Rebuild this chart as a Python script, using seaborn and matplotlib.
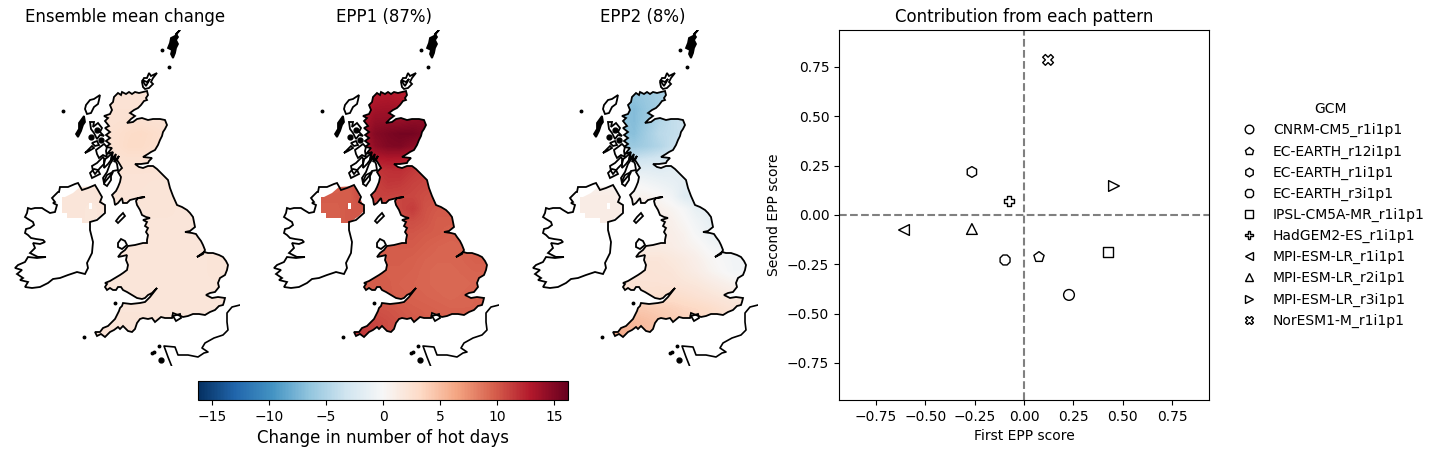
import matplotlib
matplotlib.use("Agg")
import matplotlib.pyplot as plt
import numpy as np
import pandas as pd
import seaborn as sns
from matplotlib.cm import ScalarMappable
from matplotlib.colors import Normalize
from matplotlib.patches import Polygon

# GCM scores
gcm_names = ["CNRM-CM5_r1i1p1", "EC-EARTH_r12i1p1", "EC-EARTH_r1i1p1", "EC-EARTH_r3i1p1",
             "IPSL-CM5A-MR_r1i1p1", "HadGEM2-ES_r1i1p1", "MPI-ESM-LR_r1i1p1",
             "MPI-ESM-LR_r2i1p1", "MPI-ESM-LR_r3i1p1", "NorESM1-M_r1i1p1"]
first_score = [0.228, 0.076, -0.264, -0.096, 0.426, -0.076, -0.608, -0.264, 0.456, 0.122]
second_score = [-0.405, -0.213, 0.218, -0.228, -0.188, 0.071, -0.076, -0.071, 0.147, 0.786]
gcm_markers = ["o", "p", "h", "8", "s", "P", "<", "^", ">", "X"]

titles = ["Ensemble mean change", "EPP1 (87%)", "EPP2 (8%)"]
cbar_ticks = [-15, -10, -5, 0, 5, 10, 15]

# map outlines, in map units (y pointing south)
great_britain = [
    (118, 93), (121, 95), (122, 92), (126, 94), (129, 92), (132, 94), (135, 92), (139, 93), (143, 92), (147, 91),
    (148, 95), (146, 98), (147, 100), (144, 101), (141, 105), (138, 108), (134, 110), (130, 113), (135, 116),
    (131, 119), (127, 123), (133, 122), (137, 119), (142, 118), (148, 120), (153, 119), (160, 119), (165, 120),
    (167, 125), (165, 129), (163, 132), (162, 136), (160, 140), (158, 145), (155, 150), (151, 152), (148, 154),
    (143, 157), (152, 158), (149, 161), (148, 163), (141, 164), (135, 164), (139, 167), (143, 168), (148, 166),
    (153, 166), (157, 169), (160, 172), (164, 176), (168, 180), (169, 184), (170, 188), (173, 196), (177, 205),
    (182, 207), (187, 210), (190, 213), (193, 217), (194, 222), (195, 227), (190, 231), (185, 232), (192, 233),
    (196, 234), (198, 237), (201, 241), (203, 245), (205, 250), (203, 254), (197, 257), (204, 252), (208, 253),
    (213, 253), (219, 255), (223, 257), (226, 261), (228, 265), (227, 270), (225, 275), (220, 278), (218, 283),
    (219, 287), (215, 292), (210, 293), (206, 295), (212, 298), (218, 297), (225, 298), (224, 302), (223, 305),
    (219, 306), (215, 310), (210, 312), (205, 315), (199, 314), (193, 314), (188, 316), (183, 317), (178, 315),
    (173, 313), (172, 318), (165, 318), (161, 317), (155, 322), (152, 318), (148, 319), (143, 318), (140, 319),
    (137, 323), (135, 329), (132, 332), (128, 331), (123, 326), (120, 329), (118, 327), (114, 330), (110, 332),
    (107, 335), (105, 337), (101, 334), (97, 336), (95, 332), (100, 332), (103, 328), (108, 326), (112, 322),
    (115, 319), (117, 315), (119, 311), (120, 308), (122, 306), (123, 303), (131, 304), (140, 303), (145, 302),
    (150, 297), (157, 288), (152, 293), (148, 295), (145, 298), (142, 299), (137, 298), (132, 295), (127, 292),
    (123, 290), (121, 287), (118, 287), (116, 290), (113, 290), (110, 288), (107, 290), (105, 287), (107, 284),
    (105, 283), (110, 281), (115, 278), (120, 275), (123, 273), (127, 270), (128, 265), (126, 260), (127, 255),
    (123, 256), (118, 257), (121, 253), (125, 250), (128, 246), (135, 245), (143, 243), (147, 243), (147, 240),
    (148, 235), (146, 232), (148, 228), (145, 226), (147, 222), (143, 220), (150, 218), (146, 217), (142, 215),
    (140, 210), (137, 205), (136, 201), (138, 198), (145, 197), (138, 198), (130, 200), (127, 203), (123, 203),
    (122, 198), (118, 203), (115, 205), (114, 199), (112, 195), (116, 191), (118, 187), (120, 182), (121, 177),
    (118, 172), (122, 168), (119, 163), (117, 160), (119, 156), (114, 162), (116, 154), (111, 160), (113, 152),
    (107, 154), (112, 148), (106, 147), (110, 144), (106, 141), (110, 138), (106, 135), (110, 132), (105, 128),
    (109, 126), (105, 121), (108, 118), (104, 116), (110, 114), (112, 110), (110, 105), (113, 102), (114, 97)]
ireland = [
    (58, 192), (52, 198), (55, 202), (53, 203), (57, 205), (55, 212), (50, 213), (45, 210), (42, 208), (35, 208),
    (31, 209), (28, 208), (27, 213), (25, 217), (28, 219), (33, 222), (34, 225), (30, 228), (26, 229), (25, 233),
    (28, 235), (31, 238), (36, 239), (43, 240), (45, 242), (40, 244), (33, 243), (35, 248), (30, 253), (38, 257),
    (46, 257), (37, 258), (28, 257), (25, 262), (18, 265), (15, 268), (22, 270), (17, 274), (23, 278), (20, 280),
    (28, 282), (25, 287), (32, 288), (40, 287), (48, 283), (53, 279), (60, 278), (68, 275), (77, 272), (85, 274),
    (88, 268), (87, 263), (92, 253), (93, 242), (90, 230), (90, 222), (97, 220), (105, 213), (105, 205), (100, 202),
    (102, 197), (98, 190), (95, 185), (88, 188), (82, 190), (78, 183), (75, 184), (68, 187), (60, 187), (59, 192)]
ni_raster = [(62, 197), (65, 197), (73, 193), (80, 187), (96, 186), (100, 195), (106, 210), (100, 216), (90, 223),
             (82, 223), (82, 218), (67, 218), (67, 213), (62, 213)]
lough = [(89, 203), (92, 203), (92, 209), (89, 209)]
solid_islands = [
    [(180, 30), (176, 34), (178, 37), (176, 40), (178, 44), (176, 48), (175, 53), (173, 58), (171, 54), (172, 50),
     (168, 48), (170, 43), (171, 38), (175, 36)],
    [(84, 116), (85, 122), (83, 125), (81, 131), (78, 137), (76, 134), (79, 129), (79, 123)]]
islands = [
    [(142, 82), (144, 78), (147, 78), (149, 73), (151, 76), (157, 73), (153, 78), (151, 82), (153, 84), (149, 88),
     (145, 89), (143, 87)],
    [(142, 80), (147, 82), (150, 79), (146, 86)],
    [(86, 105), (90, 100), (94, 99), (100, 95), (99, 100), (98, 104), (94, 107), (91, 113), (87, 114), (85, 109)],
    [(90, 122), (94, 122), (93, 127), (98, 123), (102, 128), (100, 132), (104, 136), (100, 135), (97, 139), (94, 133),
     (91, 129)],
    [(85, 153), (88, 150), (92, 146), (94, 148), (89, 151)],
    [(92, 143), (97, 141), (99, 145), (95, 146)],
    [(96, 150), (100, 147), (104, 144), (107, 147), (106, 151), (107, 157), (103, 155), (99, 158), (97, 154)],
    [(92, 166), (97, 163), (100, 160), (103, 157), (105, 160), (104, 164), (100, 168), (95, 174), (93, 171)],
    [(90, 173), (94, 169), (98, 170), (100, 174), (96, 176), (92, 178)],
    [(113, 172), (111, 176), (111, 180), (107, 186), (104, 184), (105, 179), (107, 175)],
    [(114, 158), (117, 164), (118, 170), (113, 171), (110, 176), (104, 183), (103, 178), (107, 172), (110, 164)],
    [(104, 160), (108, 157), (112, 153), (111, 160), (108, 164), (104, 168)],
    [(123, 213), (125, 216), (121, 220), (118, 223), (116, 221), (119, 217)],
    [(118, 243), (121, 239), (125, 241), (127, 245), (122, 249), (118, 247)],
    [(173, 316), (180, 314), (181, 318), (176, 321)]]
specks = [(63, 111), (162, 50), (169, 67), (84, 337), (115, 303), (152, 353), (154, 352), (159, 346)]
blobs = [(161, 360), (97, 130), (101, 140), (91, 137)]
france = [(240, 305), (232, 307), (227, 313), (227, 322), (228, 330), (223, 335), (214, 338), (205, 343), (202, 348),
          (208, 352), (204, 353), (198, 357), (188, 355), (178, 355), (175, 347), (164, 346), (168, 357), (172, 367)]

# value grids, one row per 12.5 map units from north to south
grid_x = [60, 235]
grid_y = [90, 340]
mean_change = [
    [2.1, 2.1, 2.2, 2.3, 2.3, 2.3, 2.3, 2.2, 2.2, 2.2, 2.2, 2.2, 2.2, 2.2],
    [2.1, 2.1, 2.2, 2.3, 2.4, 2.4, 2.4, 2.3, 2.3, 2.3, 2.3, 2.3, 2.3, 2.3],
    [2.1, 2.1, 2.2, 2.4, 2.5, 2.6, 2.6, 2.5, 2.4, 2.4, 2.4, 2.4, 2.4, 2.4],
    [2.1, 2.1, 2.2, 2.4, 2.7, 3.0, 3.2, 2.9, 2.6, 2.4, 2.4, 2.4, 2.4, 2.4],
    [2.1, 2.1, 2.2, 2.4, 2.7, 3.1, 3.1, 2.8, 2.5, 2.4, 2.4, 2.4, 2.4, 2.4],
    [2.1, 2.1, 2.2, 2.3, 2.5, 2.6, 2.6, 2.5, 2.4, 2.3, 2.3, 2.3, 2.3, 2.3],
    [2.1, 2.1, 2.1, 2.2, 2.3, 2.3, 2.3, 2.3, 2.2, 2.2, 2.2, 2.2, 2.2, 2.2],
    [2.0, 2.0, 2.0, 2.1, 2.2, 2.2, 2.2, 2.1, 2.1, 2.1, 2.1, 2.1, 2.1, 2.1],
    [2.0, 2.0, 2.0, 2.1, 2.1, 2.1, 2.1, 2.1, 2.1, 2.1, 2.1, 2.1, 2.1, 2.1],
    [2.0, 2.0, 1.8, 2.0, 2.0, 2.0, 2.0, 2.1, 2.1, 2.0, 2.0, 2.0, 2.0, 2.0],
    [2.0, 2.0, 1.8, 2.0, 2.0, 2.0, 2.0, 2.0, 2.0, 2.0, 2.0, 2.0, 2.0, 2.0],
    [2.0, 2.0, 2.0, 2.0, 2.0, 2.0, 2.0, 2.0, 2.0, 2.0, 2.0, 2.0, 2.0, 2.0],
    [2.0, 2.0, 2.0, 2.0, 2.0, 2.0, 2.0, 2.0, 2.0, 2.0, 2.0, 2.0, 2.0, 2.0],
    [2.0, 2.0, 2.0, 2.0, 2.0, 2.0, 2.0, 2.0, 2.0, 2.0, 2.0, 2.0, 2.1, 2.1],
    [2.0, 2.0, 2.0, 2.0, 2.0, 2.0, 2.0, 2.0, 2.0, 2.0, 2.0, 2.0, 2.1, 2.1],
    [2.0, 2.0, 2.0, 2.0, 2.0, 2.0, 2.0, 2.0, 2.0, 2.0, 2.0, 2.0, 2.0, 2.0],
    [2.0, 2.0, 2.0, 2.0, 2.0, 2.0, 2.0, 2.0, 2.0, 2.0, 2.0, 2.0, 2.0, 2.0],
    [2.0, 2.0, 2.0, 2.0, 2.0, 2.0, 2.0, 2.0, 2.0, 2.0, 2.0, 2.0, 2.0, 2.0],
    [2.0, 2.0, 2.1, 2.1, 2.1, 2.1, 2.1, 2.1, 2.0, 2.0, 2.0, 2.0, 2.0, 2.0],
    [2.0, 2.0, 2.1, 2.2, 2.2, 2.2, 2.1, 2.1, 2.0, 2.0, 2.0, 2.0, 2.0, 2.0]]
epp1 = [
    [9.5, 9.5, 10.5, 12.0, 12.8, 13.0, 12.8, 12.6, 13.0, 13.0, 13.0, 13.0, 13.0, 13.0],
    [9.5, 9.5, 10.5, 12.5, 13.5, 13.6, 13.4, 13.0, 13.5, 13.5, 13.5, 13.5, 13.5, 13.5],
    [9.5, 9.5, 10.5, 13.0, 14.2, 14.3, 14.2, 14.5, 14.6, 14.6, 14.6, 14.6, 14.6, 14.6],
    [9.5, 9.5, 10.5, 13.5, 14.8, 15.2, 15.5, 15.5, 15.0, 15.0, 15.0, 15.0, 15.0, 15.0],
    [9.5, 9.5, 10.5, 12.8, 14.4, 15.0, 15.1, 14.5, 14.0, 14.0, 14.0, 14.0, 14.0, 14.0],
    [9.5, 9.5, 10.5, 11.8, 12.8, 13.0, 12.9, 12.5, 12.5, 12.5, 12.5, 12.5, 12.5, 12.5],
    [9.5, 9.5, 10.5, 11.0, 11.5, 11.8, 11.9, 11.4, 11.0, 11.0, 11.0, 11.0, 11.0, 11.0],
    [9.5, 9.6, 10.0, 10.8, 11.0, 11.5, 11.4, 11.0, 10.8, 10.6, 10.6, 10.6, 10.6, 10.6],
    [9.8, 9.8, 9.8, 10.8, 11.0, 11.0, 10.9, 10.8, 10.5, 10.3, 10.3, 10.3, 10.3, 10.3],
    [9.7, 9.7, 10.0, 10.0, 10.5, 10.5, 10.8, 11.3, 10.3, 10.0, 10.0, 10.0, 10.0, 10.0],
    [9.7, 9.7, 10.0, 10.0, 10.0, 10.0, 10.3, 10.5, 10.2, 9.8, 9.8, 9.8, 9.8, 9.8],
    [9.6, 9.6, 9.6, 9.8, 9.8, 9.8, 10.1, 10.1, 9.9, 9.8, 9.6, 9.6, 9.6, 9.6],
    [9.6, 9.6, 9.6, 9.8, 9.8, 9.8, 9.9, 9.9, 9.7, 9.5, 9.4, 9.5, 9.5, 9.5],
    [9.6, 9.6, 9.6, 9.8, 9.8, 9.8, 9.8, 9.7, 9.5, 9.4, 9.4, 9.5, 9.7, 9.7],
    [9.6, 9.6, 9.6, 9.8, 9.8, 9.7, 9.7, 9.6, 9.4, 9.3, 9.3, 9.4, 9.5, 9.5],
    [9.6, 9.6, 9.6, 9.8, 9.8, 9.8, 9.6, 9.5, 9.4, 9.3, 9.3, 9.3, 9.4, 9.4],
    [9.8, 9.8, 9.8, 9.9, 9.9, 9.8, 9.7, 9.6, 9.5, 9.4, 9.3, 9.4, 9.5, 9.5],
    [10.3, 10.3, 10.3, 10.4, 10.3, 10.2, 10.0, 9.8, 9.7, 9.6, 9.5, 9.5, 9.5, 9.5],
    [11.5, 11.5, 11.3, 11.0, 10.8, 10.5, 10.2, 10.0, 9.8, 9.8, 9.6, 9.6, 9.6, 9.6],
    [12.0, 12.0, 11.8, 11.5, 11.0, 10.5, 10.2, 10.0, 9.8, 9.8, 9.6, 9.6, 9.6, 9.6]]
epp2 = [
    [-6.0, -6.0, -6.0, -6.0, -6.5, -6.0, -5.5, -5.0, -4.5, -4.5, -4.5, -4.5, -4.5, -4.5],
    [-6.0, -6.0, -6.0, -6.5, -7.0, -6.2, -5.5, -4.8, -4.2, -4.2, -4.2, -4.2, -4.2, -4.2],
    [-6.0, -6.0, -6.0, -6.5, -7.0, -6.0, -4.8, -4.0, -3.5, -3.5, -3.5, -3.5, -3.5, -3.5],
    [-6.0, -6.0, -6.0, -6.5, -6.8, -5.6, -4.4, -4.0, -3.6, -3.6, -3.6, -3.6, -3.6, -3.6],
    [-5.5, -5.5, -5.5, -5.8, -6.0, -5.5, -4.8, -3.8, -3.2, -3.2, -3.2, -3.2, -3.2, -3.2],
    [-3.5, -3.5, -3.5, -3.5, -3.6, -3.3, -3.0, -2.8, -2.6, -2.6, -2.6, -2.6, -2.6, -2.6],
    [-1.5, -1.5, -1.5, -1.5, -1.5, -1.6, -1.8, -1.6, -1.6, -1.6, -1.6, -1.6, -1.6, -1.6],
    [0.6, 0.6, 0.6, 0.3, 0.0, -0.4, -0.8, -1.2, -1.6, -1.8, -1.8, -1.8, -1.8, -1.8],
    [1.2, 1.2, 1.2, 1.0, 0.6, 0.6, 0.2, -0.5, -2.0, -2.3, -2.3, -2.3, -2.3, -2.3],
    [1.2, 1.2, 1.2, 1.2, 0.9, 0.9, 0.8, 0.4, -0.2, -1.3, -1.5, -1.5, -1.5, -1.5],
    [1.2, 1.2, 1.2, 1.2, 1.0, 1.0, 1.0, 0.8, 0.2, -0.6, -1.3, -1.5, -1.5, -1.5],
    [1.2, 1.2, 1.2, 1.2, 1.1, 1.0, 1.0, 1.0, 0.6, -0.2, -0.9, -1.4, -1.5, -1.5],
    [1.2, 1.2, 1.2, 1.3, 1.3, 1.3, 1.3, 1.2, 0.8, 0.4, -0.3, -0.6, -0.8, -0.8],
    [1.5, 1.5, 1.5, 1.7, 1.9, 2.0, 2.0, 1.7, 1.4, 0.9, 0.3, -0.1, -0.5, -0.5],
    [2.2, 2.2, 2.2, 2.2, 2.2, 2.2, 2.1, 2.0, 1.6, 1.2, 0.6, 0.1, -0.4, -0.4],
    [2.2, 2.2, 2.2, 2.3, 2.3, 2.3, 2.3, 2.2, 2.0, 1.8, 1.4, 1.0, 0.6, 0.6],
    [2.5, 2.5, 2.5, 2.6, 2.7, 2.7, 2.8, 2.9, 2.7, 2.4, 2.1, 1.8, 1.6, 1.6],
    [4.0, 4.0, 4.0, 4.2, 4.3, 4.2, 4.0, 3.8, 3.5, 3.3, 3.0, 2.6, 2.2, 2.2],
    [6.0, 6.0, 6.0, 5.5, 5.2, 4.9, 4.5, 4.2, 3.9, 3.5, 3.2, 2.8, 2.4, 2.4],
    [6.5, 6.5, 6.5, 6.0, 5.5, 5.0, 4.5, 4.2, 3.9, 3.5, 3.2, 2.8, 2.4, 2.4]]
all_fields = [mean_change, epp1, epp2]

VMAX = 16.2
cmap = "RdBu_r"
W, H = 1440, 454


def px_axes(fig, left, top, right, bottom):
    # axes rectangle given in output pixels
    return fig.add_axes([left / W, 1 - bottom / H, (right - left) / W, (bottom - top) / H])


def draw_map(ax, field, title):
    for outline in (great_britain, ni_raster):
        im = ax.imshow(np.array(field), cmap=cmap, vmin=-VMAX, vmax=VMAX, aspect="auto",
                       interpolation="bilinear", extent=[grid_x[0], grid_x[1], grid_y[1], grid_y[0]])
        im.set_clip_path(Polygon(outline, closed=True, transform=ax.transData))
    ax.add_patch(Polygon(lough, closed=True, facecolor="white", edgecolor="none", zorder=3))
    for outline in [great_britain, ireland] + islands:
        ax.add_patch(Polygon(outline, closed=True, fill=False, edgecolor="black", linewidth=1.3, zorder=4))
    for outline in solid_islands:
        ax.add_patch(Polygon(outline, closed=True, facecolor="black", edgecolor="black", linewidth=1.3, zorder=4))
    ax.plot(*zip(*france), color="black", linewidth=1.2, zorder=4)
    ax.plot(*zip(*specks), linestyle="none", marker="o", markersize=1.8, color="black", zorder=4)
    ax.plot(*zip(*blobs), linestyle="none", marker="o", markersize=3.5, color="black", zorder=4)
    ax.set_xlim(10, 240)
    ax.set_ylim(366, 30)
    ax.set_axis_off()
    ax.set_title(title, fontsize=12)


def main():
    fig = plt.figure(figsize=(W / 100, H / 100), dpi=100)

    for i, (field, title) in enumerate(zip(all_fields, titles)):
        shift = 259 * i
        ax = px_axes(fig, 10 + shift, 30, 240 + shift, 366)
        draw_map(ax, field, title)

    cax = px_axes(fig, 198, 381, 568, 400)
    cbar = fig.colorbar(ScalarMappable(Normalize(-VMAX, VMAX), cmap=cmap), cax=cax, orientation="horizontal")
    cbar.set_ticks(cbar_ticks)
    cbar.set_label("Change in number of hot days", fontsize=12)

    df = pd.DataFrame({"First EPP score": first_score, "Second EPP score": second_score, "GCM": gcm_names})
    ax = px_axes(fig, 839, 30, 1209, 400)
    ax.axhline(0, color="gray", linestyle="--", linewidth=1.5, zorder=1)
    ax.axvline(0, color="gray", linestyle="--", linewidth=1.5, zorder=1)
    sns.scatterplot(data=df, x="First EPP score", y="Second EPP score", style="GCM", markers=gcm_markers,
                    s=60, color="white", edgecolor="black", linewidth=1, ax=ax, zorder=3)
    ax.set_xlim(-0.9375, 0.9375)
    ax.set_ylim(-0.9375, 0.9375)
    ax.set_xticks(np.arange(-0.75, 0.76, 0.25))
    ax.set_yticks(np.arange(-0.75, 0.76, 0.25))
    ax.set_title("Contribution from each pattern", fontsize=12)

    sns.move_legend(ax, "center left", bbox_to_anchor=(1.038, 0.50), frameon=False, title="GCM",
                    labelspacing=0.505, handletextpad=0.7, markerscale=0.8)
    for h in ax.get_legend().legend_handles:
        h.set_markerfacecolor("white")
        h.set_markeredgecolor("black")

    fig.savefig("out.png", dpi=100)


if __name__ == "__main__":
    main()
